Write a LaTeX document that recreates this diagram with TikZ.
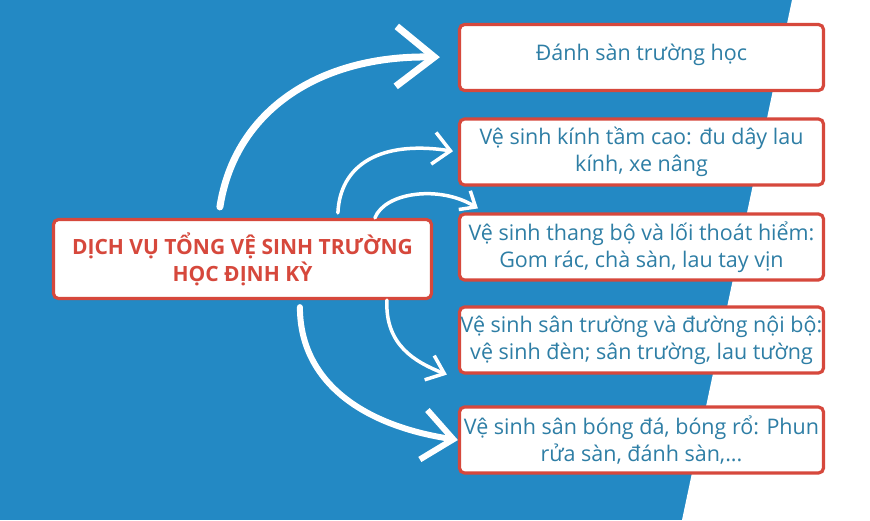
\documentclass[tikz,border=0pt]{standalone}
\usepackage{fontspec}
\setmainfont{Open Sans}
\usetikzlibrary{arrows.meta}
\definecolor{bgblue}{RGB}{35,137,196}
\definecolor{boxred}{RGB}{214,72,60}
\definecolor{txtblue}{RGB}{46,126,165}

\begin{document}
\begin{tikzpicture}[x=1pt,y=-1pt]
  \tikzset{ item/.style={draw=boxred,line width=3.2pt,fill=white,rounded corners=5pt,minimum width=364pt,minimum height=66pt,inner sep=0pt,align=center,text=txtblue,font=\fontsize{21.5}{27}\selectfont},
    mainbox/.style={item,minimum width=378pt,minimum height=79pt,text=boxred,font=\bfseries\fontsize{21}{27}\selectfont},
    arr/.style={white,line cap=round,line join=round},
  }
  \useasboundingbox (0,0) rectangle (870,520);
  \fill[bgblue] (0,0) rectangle (870,520);
  \fill[white] (792,0) -- (870,0) -- (870,520) -- (682,520) -- cycle;

  \node[mainbox] (hub) at (242.5,259) {DỊCH VỤ TỔNG VỆ SINH TRƯỜNG\\HỌC ĐỊNH KỲ};

  \node[item] (t1) at (641.5,57.5) {Đánh sàn trường học\\[-17pt]\mbox{}};
  \node[item] (t2) at (641.5,152) {Vệ sinh kính tầm cao: đu dây lau\\kính, xe nâng};
  \node[item] (t3) at (641.5,247) {Vệ sinh thang bộ và lối thoát hiểm:\\Gom rác, chà sàn, lau tay vịn};
  \node[item] (t4) at (641.5,340) {Vệ sinh sân trường và đường nội bộ:\\vệ sinh đèn; sân trường, lau tường};
  \node[item] (t5) at (641.5,440) {Vệ sinh sân bóng đá, bóng rổ: Phun\\rửa sàn, đánh sàn,...};

  \draw[arr,line width=7pt,-{Straight Barb[length=38pt,width=60pt]},shorten >=18pt]
    ([xshift=168pt,yshift=11pt]hub.north west) .. controls (235,110) and (320,55) .. (t1.west);
  \draw[arr,line width=3.5pt,-{Straight Barb[length=17pt,width=32pt]},shorten >=5pt]
    ([xshift=286pt,yshift=5pt]hub.north west) .. controls (340,165) and (380,140) .. (t2.west);
  \draw[arr,line width=3.5pt,-{Straight Barb[length=13pt,width=22pt]}]
    ([xshift=323pt]hub.north west) .. controls (385,192) and (440,185) .. ([xshift=20pt,yshift=4pt]t3.north west);
  \draw[arr,line width=3.5pt,-{Straight Barb[length=16pt,width=26pt]}]
    ([xshift=335pt]hub.south west) .. controls (385,345) and (415,362) .. ([xshift=-11pt]t4.south west);
  \draw[arr,line width=6pt,-{Straight Barb[length=30pt,width=50pt]}]
    ([xshift=248pt,yshift=-7pt]hub.south west) .. controls (300,380) and (360,425) .. (t5.west);
\end{tikzpicture}
\end{document}
